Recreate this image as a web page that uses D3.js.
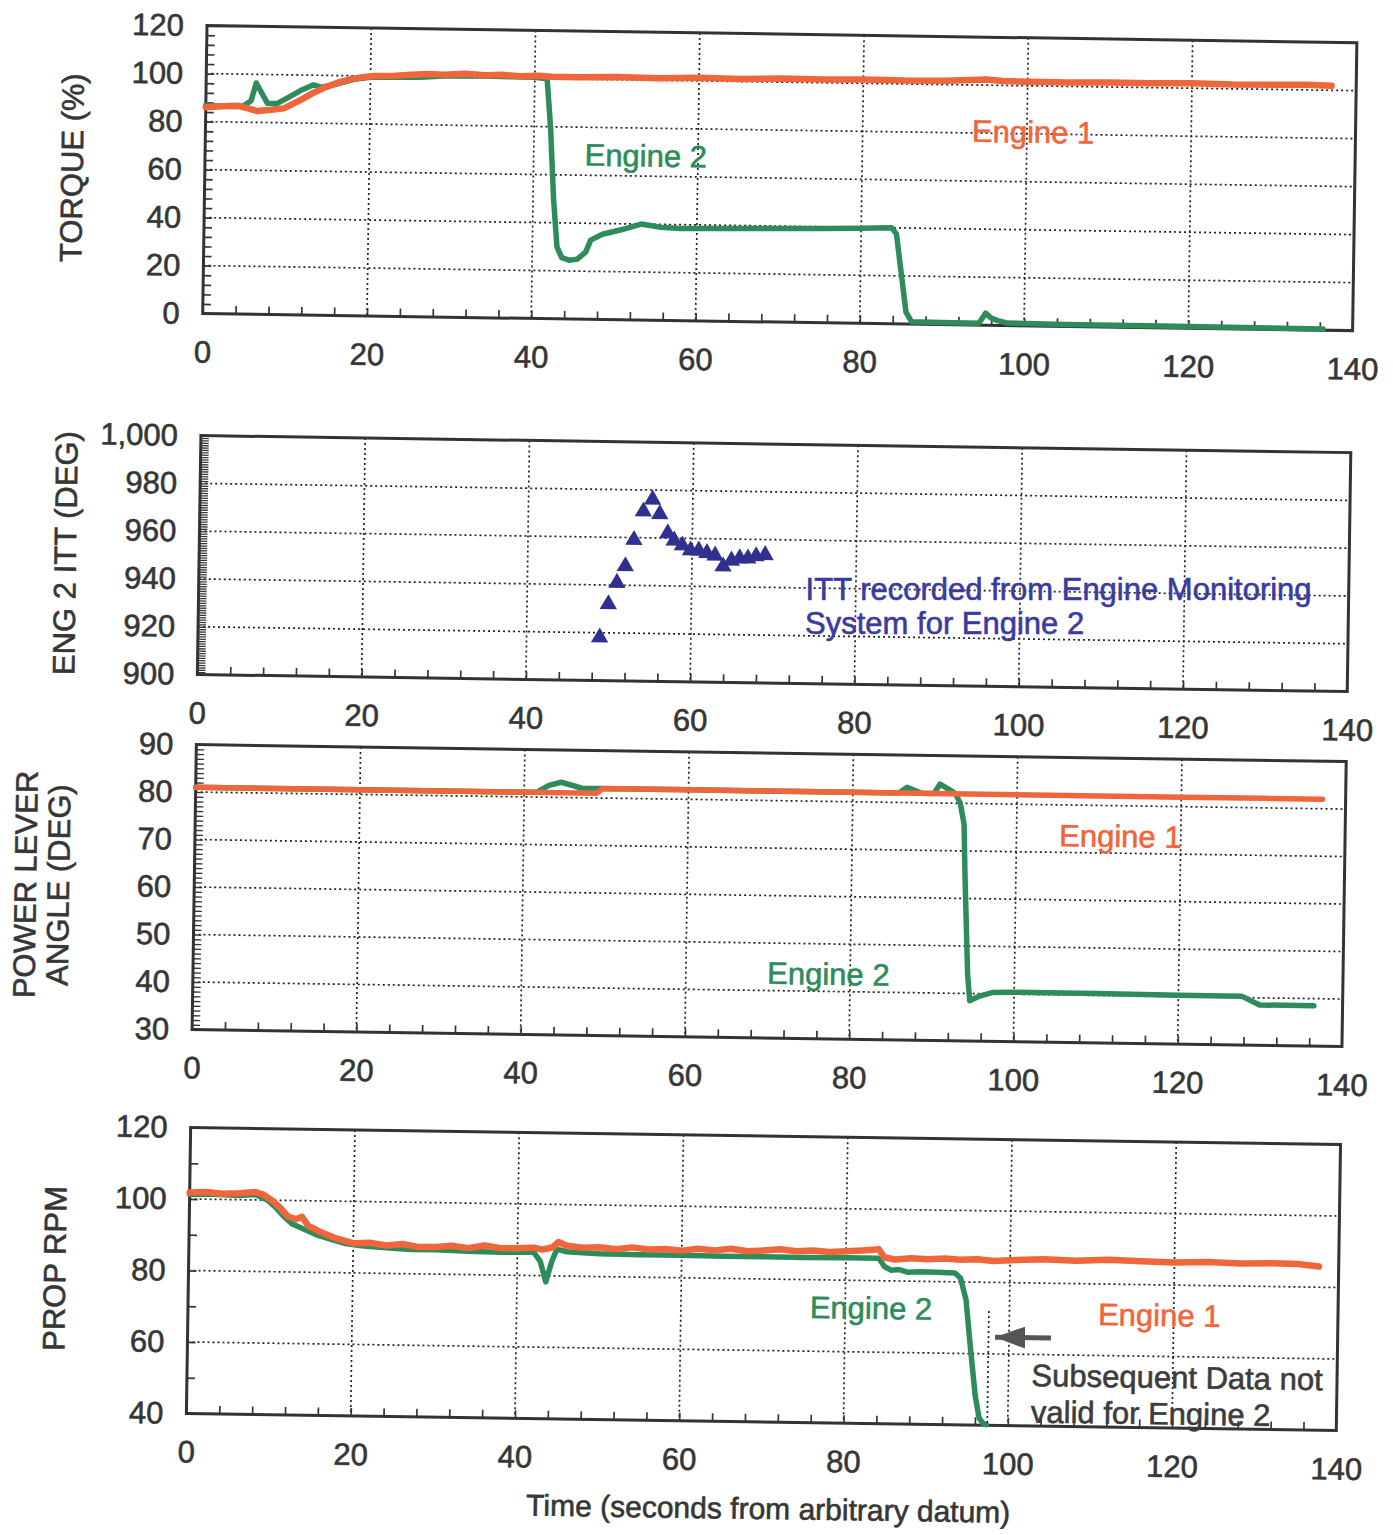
<!DOCTYPE html>
<html>
<head>
<meta charset="utf-8">
<script src="https://cdn.jsdelivr.net/npm/d3@7"></script>
<style>
  body { margin: 0; background: #fff; }
  text { font-family: "Liberation Sans", Arial, sans-serif; }
</style>
</head>
<body>
<svg id="chart" width="1393" height="1535"></svg>
<script>
// ---- data (time in seconds, value) ----
const timeTicks = [0, 20, 40, 60, 80, 100, 120, 140];

const torqueTicks = [0, 20, 40, 60, 80, 100, 120];
const torqueEng1 = [[0,86],[2,86.5],[4,86.8],[6.3,84.7],[8,85.3],[9.5,86],[11.5,89.5],[13,92.5],[14.5,95],[16,97],[17.5,98.5],
  [19,99.5],[20.5,100],[23,100.3],[25,100.8],[27,101.2],[29,101],[31.5,101.5],[34,101],[36,101.3],[38.5,100.8],[40.5,101.2],
  [42,100.8],[45,100.8],[50,101.1],[55,100.9],[60,101.3],[65,101.1],[70,101.5],[75,101.3],[80,101.6],[85,101.4],[90,101.6],
  [95,102.4],[97,101.8],[100,101.7],[105,101.6],[110,101.9],[115,101.8],[120,102.1],[125,101.8],[130,102],[134,102.2],[137,101.9]];
const torqueEng2 = [[0,86.8],[2,86.5],[4.5,86.5],[5.5,89],[6.1,96.4],[7.5,88],[8.7,88],[10,90.5],[11.5,93.5],[13.1,96],[14,95],
  [16,96.5],[18,98.5],[20,99.5],[23,99.6],[26,99.8],[29,100.5],[33,100.8],[37,100.6],[40,100.5],[41.5,100],[42,80],[42.5,50],
  [43,30],[43.6,25.5],[44.5,24.5],[45.5,25],[46.5,28],[47.1,33],[48.5,35.5],[50.8,37.5],[53.2,40],[55.6,38.8],[58,38.4],
  [60.5,38.5],[65,38.8],[70,39],[75,39.3],[80,39.6],[83.7,40],[84.3,37.5],[85,20],[85.6,5],[86.3,1],[90,0.8],[94.5,0.8],
  [95.3,5],[96,3],[96.8,2],[98,1],[105,0.8],[115,0.8],[125,0.6],[136.4,0.5]];

const ittTicks = [900, 920, 940, 960, 980, 1000];
const ittTime  = [48.9, 49.9, 50.9, 51.9, 52.9, 54.0, 55.1, 56.0, 57.0, 57.8, 58.8, 59.8, 60.8, 61.8, 62.8, 63.8, 64.8, 65.8, 66.8, 67.8, 68.9];
const ittValue = [918, 932, 941, 948, 959, 971, 976, 970, 962, 959, 957, 955, 955, 954, 953, 948.5, 951, 952, 952, 953, 953.5];

const plaTicks = [30, 40, 50, 60, 70, 80, 90];
const plaEng1 = [[0,81],[10,81],[20,81],[30,81],[40,81],[48.8,81],[49.6,82],[60,82],[70,82],[80,82],[90,82],[100,82],
  [110,82],[120,82],[130,82],[137.2,82]];
const plaEng2 = [[0,81],[20,81],[41.5,81],[43,82.5],[44.5,83.2],[46,82.5],[47,82],[48.8,82],[60,82],[80,82],[85.6,82],
  [86.6,83.2],[88.4,82],[89.9,82],[90.6,84],[92.1,82.5],[92.5,82],[93.1,80],[93.6,75.6],[93.8,65],[94.3,44],[94.6,38.5],
  [95.8,39.5],[97.4,40.3],[100,40.4],[110,40.4],[120,40.3],[127.7,40.3],[129.9,38.5],[136.5,38.5]];

const rpmTicks = [40, 60, 80, 100, 120];
const rpmEng1 = [[0,101.8],[2,102],[4,101.6],[6,101.8],[8,102.2],[9,101.5],[10,100],[11,98],[12,95.5],[13,94.8],[13.7,95.5],
  [14.5,93],[16,91.3],[18,89.5],[20,88.3],[22,88.5],[24,87.8],[26,88.3],[28,87.5],[30,87.6],[32,88],[34,87.4],[36,88.2],
  [38,87.5],[40,87.6],[42,87.8],[43,87.3],[44.3,88],[45,89.5],[46,88.5],[48,88],[50,88.2],[52,87.7],[54,88.3],[56,87.8],
  [58,88],[60,87.6],[62,88.2],[64,87.8],[66,88.3],[68,87.7],[70,88],[72,88.4],[74,87.9],[76,88.2],[78,87.8],[80,88.1],
  [82,88.4],[84,88.8],[84.7,86.5],[86,86],[88,86.4],[90,86.2],[92,86.5],[94,86.2],[96,86.4],[98,86],[100,86.3],[104,86.7],
  [108,86.4],[112,86.8],[116,86.5],[120,86.3],[124,86.6],[128,86.3],[132,86.5],[135,86.4],[137.6,85.8]];
const rpmEng2 = [[0,101.3],[3,101.4],[6,101.2],[8,101.5],[9.5,100],[10.5,98],[11.5,95.5],[12.5,93.5],[14,92],[15.5,90.5],
  [17,89.5],[19,88.2],[21,87.6],[24,87.2],[27,86.8],[30,86.8],[34,86.5],[38,86.4],[42,86.5],[42.8,84],[43.5,78.3],[44.2,84],
  [44.8,87.5],[46,86.8],[50,86.4],[55,86.3],[60,86.3],[65,86.2],[70,86.2],[75,86.2],[80,86.3],[84,86.3],[84.7,84],[85.5,83],
  [86.5,83.2],[87.5,82.5],[89,82.7],[91,82.6],[93.3,82.5],[94,81],[94.7,75],[95.3,62],[96,48],[96.5,42],[97,40.5],[97.4,40.2]];

// ---- styling ----
const ORANGE = "#f0663c", GREEN = "#2e8c5a", NAVY = "#30308f", INK = "#363636";
const FS = 31;
const SKEW = 0.85;

const svg = d3.select("#chart");
// the original is a slightly skewed scan
const root = svg.append("g").attr("transform", `rotate(${SKEW},700,770)`);

const x = d3.scaleLinear().domain([0, 140]).range([196, 1346]);

let line = (y) => d3.line().x(d => x(d[0])).y(d => y(d[1]));

// scanned ink looks a bit heavier than plain text
function ink(sel, color) {
    sel.attr("fill", color).attr("stroke", color).attr("stroke-width", 0.6);
}

function drawPanel(top, bottom, ticks, minorStep, fmt, title) {
    const yDom = [ticks[0], ticks[ticks.length - 1]];
    const y = d3.scaleLinear().domain(yDom).range([bottom, top]);
    const g = root.append("g");

    // dotted grid
    g.append("g").selectAll("line").data(timeTicks.slice(1, -1)).join("line")
        .attr("x1", d => x(d)).attr("x2", d => x(d)).attr("y1", top).attr("y2", bottom)
        .attr("stroke", "#222").attr("stroke-width", 1.7).attr("stroke-dasharray", "2,3");
    g.append("g").selectAll("line").data(ticks.slice(1, -1)).join("line")
        .attr("x1", x(0)).attr("x2", x(140)).attr("y1", d => y(d)).attr("y2", d => y(d))
        .attr("stroke", "#222").attr("stroke-width", 1.7).attr("stroke-dasharray", "2,3");

    // minor ticks (inside)
    const minorY = d3.range(yDom[0] + minorStep, yDom[1], minorStep);
    const ay = g.append("g").attr("transform", `translate(${x(0)},0)`)
        .call(d3.axisLeft(y).tickValues(minorY).tickSize(-8).tickFormat(""));
    ay.select(".domain").remove();
    ay.selectAll("line").attr("stroke", INK).attr("stroke-width", minorStep < 2 ? 1.3 : 1.7);
    const ax = g.append("g").attr("transform", `translate(0,${bottom})`)
        .call(d3.axisBottom(x).tickValues(d3.range(4, 140, 4)).tickSize(-8).tickFormat(""));
    ax.select(".domain").remove();
    ax.selectAll("line").attr("stroke", INK).attr("stroke-width", 1.7);

    // frame
    g.append("rect").attr("x", x(0)).attr("y", top)
        .attr("width", x(140) - x(0)).attr("height", bottom - top)
        .attr("fill", "none").attr("stroke", "#333").attr("stroke-width", 3);

    // labels
    const ly = g.append("g").attr("transform", `translate(${x(0)},0)`)
        .call(d3.axisLeft(y).tickValues(ticks).tickSize(0).tickPadding(23).tickFormat(fmt));
    ly.select(".domain").remove();
    ink(ly.selectAll("text").attr("font-size", FS), INK);
    const lx = g.append("g").attr("transform", `translate(0,${bottom})`)
        .call(d3.axisBottom(x).tickValues(timeTicks).tickSize(0).tickPadding(27));
    lx.select(".domain").remove();
    ink(lx.selectAll("text").attr("font-size", FS), INK);

    // y title (one or two lines)
    title.forEach(t => {
        ink(g.append("text")
            .attr("transform", `translate(${t.x},${(top + bottom) / 2}) rotate(-90)`)
            .attr("text-anchor", "middle").attr("dy", "0.35em")
            .attr("font-size", FS).text(t.text), INK);
    });
    return {g, y};
}

function series(p, data, color, width) {
    p.g.append("path").datum(data).attr("d", line(p.y))
        .attr("fill", "none").attr("stroke", color).attr("stroke-width", width)
        .attr("stroke-linejoin", "round").attr("stroke-linecap", "round");
}

function label(p, t, v, txt, color, size) {
    const s = p.g.append("text").attr("x", x(t)).attr("y", p.y(v))
        .attr("font-size", size || FS).text(txt);
    ink(s, color);
    return s;
}

// long two-line notes: keep each line level about its middle so the lines stay apart
function levelLine(s) {
    const w = s.node().getComputedTextLength();
    const cx = +s.attr("x") + w / 2, cy = +s.attr("y");
    s.attr("transform", `rotate(${-SKEW},${cx},${cy})`);
}

// ---- panel 1: torque ----
const p1 = drawPanel(33, 321, torqueTicks, 4, d3.format("d"), [{x: 63, text: "TORQUE (%)"}]);
series(p1, torqueEng2, GREEN, 5.5);
series(p1, torqueEng1, ORANGE, 6.5);
label(p1, 46.2, 64, "Engine 2", GREEN);
label(p1, 93.3, 76.3, "Engine 1", ORANGE);

// ---- panel 2: ITT ----
const p2 = drawPanel(443, 682, ittTicks, 1, d3.format(","), [{x: 62, text: "ENG 2 ITT (DEG)"}]);
p2.g.append("g").selectAll("path").data(ittTime).join("path")
    .attr("d", d3.symbol(d3.symbolTriangle, 130))
    .attr("transform", (d, i) => `translate(${x(d)},${p2.y(ittValue[i])})`)
    .attr("fill", NAVY);
levelLine(label(p2, 73.9, 936.5, "ITT recorded from Engine Monitoring", "#3a3aa0"));
levelLine(label(p2, 73.9, 921.4, "System for Engine 2", "#3a3aa0"));

// ---- panel 3: power lever angle ----
const p3 = drawPanel(752, 1037, plaTicks, 1, d3.format("d"),
    [{x: 27, text: "POWER LEVER"}, {x: 60, text: "ANGLE (DEG)"}]);
series(p3, plaEng2, GREEN, 5.5);
series(p3, plaEng1, ORANGE, 5.5);
label(p3, 105.2, 71.3, "Engine 1", ORANGE);
label(p3, 69.9, 41.4, "Engine 2", GREEN);

// ---- panel 4: prop rpm ----
const p4 = drawPanel(1135, 1421, rpmTicks, 10, d3.format("d"), [{x: 62, text: "PROP RPM"}]);
series(p4, rpmEng2, GREEN, 5.5);
series(p4, rpmEng1, ORANGE, 6.5);
label(p4, 75.7, 69.3, "Engine 2", GREEN);
label(p4, 110.8, 68.5, "Engine 1", ORANGE);

// annotation: where engine 2 data stops being valid
p4.g.append("line").attr("x1", x(97.5)).attr("x2", x(97.5)).attr("y1", p4.y(72)).attr("y2", p4.y(40))
    .attr("stroke", "#222").attr("stroke-width", 1.7).attr("stroke-dasharray", "2,3");
svg.append("defs").append("marker").attr("id", "head")
    .attr("markerUnits", "userSpaceOnUse").attr("markerWidth", 32).attr("markerHeight", 22)
    .attr("refX", 30).attr("refY", 11).attr("orient", "auto")
    .append("path").attr("d", "M0,0 L30,11 L0,22 Z").attr("fill", "#555");
p4.g.append("line").attr("x1", x(105.1)).attr("x2", x(98.3)).attr("y1", p4.y(64.7)).attr("y2", p4.y(64.7))
    .attr("stroke", "#555").attr("stroke-width", 5).attr("marker-end", "url(#head)");
label(p4, 102.8, 51.2, "Subsequent Data not", "#3c3c3c");
label(p4, 102.8, 41, "valid for Engine 2", "#3c3c3c");

// x title
ink(root.append("text").attr("x", x(71)).attr("y", 1518).attr("text-anchor", "middle")
    .attr("font-size", 30).text("Time (seconds from arbitrary datum)"), INK);
</script>
</body>
</html>
